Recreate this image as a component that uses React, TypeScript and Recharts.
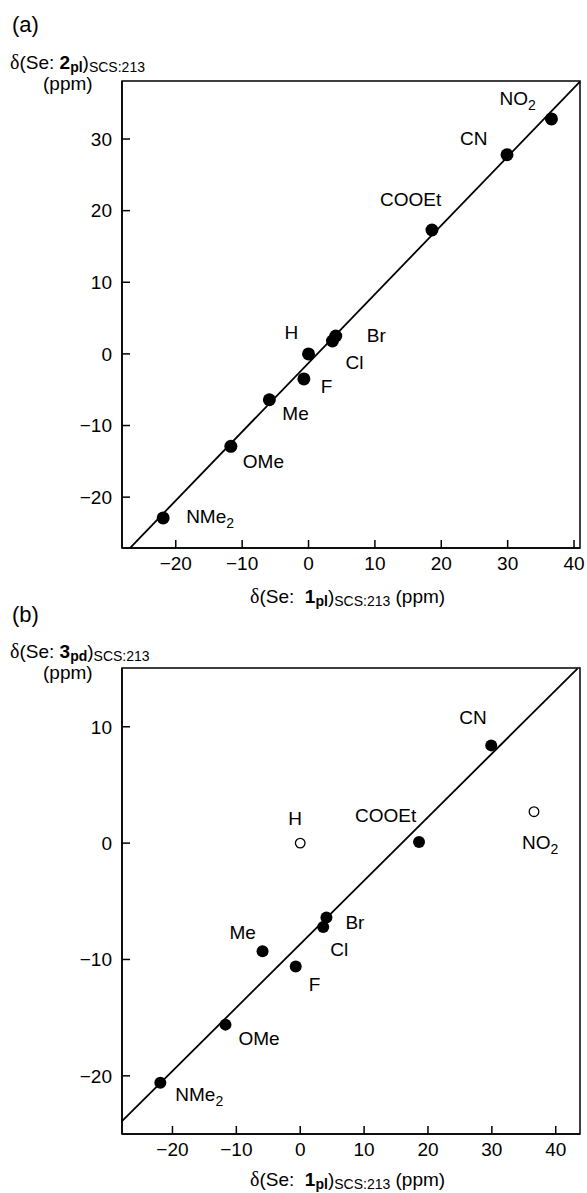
import React from "react";
import {
  ScatterChart,
  Scatter,
  XAxis,
  YAxis,
  ReferenceLine,
  ReferenceArea,
} from "recharts";

// substituents, in the same order in every array below
const substituents = ["NMe2", "OMe", "Me", "F", "H", "Cl", "Br", "COOEt", "CN", "NO2"];

// δ(Se: 1pl) SCS (ppm), shared x values
const se1pl = [-21.9, -11.7, -5.9, -0.7, 0, 3.6, 4.1, 18.6, 29.9, 36.6];
// δ(Se: 2pl) SCS (ppm), panel (a)
const se2pl = [-22.9, -12.9, -6.4, -3.5, 0, 1.8, 2.5, 17.3, 27.8, 32.8];
// δ(Se: 3pd) SCS (ppm), panel (b)
const se3pd = [-20.6, -15.6, -9.3, -10.6, 0, -7.2, -6.4, 0.1, 8.4, 2.7];
// points left out of the fit in panel (b)
const openPointsB = ["H", "NO2"];

// correlation lines, read at the plot edges
const fitA = [
  { x: -26.9, y: -27.1 },
  { x: 40.9, y: 38.0 },
];
const fitB = [
  { x: -27.9, y: -23.9 },
  { x: 43.4, y: 15.0 },
];

const xTicksA = [-20, -10, 0, 10, 20, 30, 40];
const yTicksA = [-20, -10, 0, 10, 20, 30];
const xTicksB = [-20, -10, 0, 10, 20, 30, 40];
const yTicksB = [-20, -10, 0, 10];

const domainXA: [number, number] = [-28.1, 40.9];
const domainYA: [number, number] = [-27.1, 38.1];
const domainXB: [number, number] = [-27.9, 43.8];
const domainYB: [number, number] = [-25.0, 15.05];

// label placement: [dx to text left, dy to text middle] from the dot, in px
const labelPosA: Record<string, [number, number]> = {
  NMe2: [23, -1],
  OMe: [12, 15],
  Me: [13, 14],
  F: [17, 8],
  H: [-24, -21],
  Cl: [13, 21],
  Br: [31, 0],
  COOEt: [-52, -30],
  CN: [-47, -16],
  NO2: [-52, -20],
};
const labelPosB: Record<string, [number, number]> = {
  NMe2: [15, 12],
  OMe: [13, 14],
  Me: [-33, -19],
  F: [13, 18],
  H: [-12, -25],
  Cl: [7, 23],
  Br: [19, 5],
  COOEt: [-64, -26],
  CN: [-32, -28],
  NO2: [-12, 31],
};

const SANS = "Arial, 'Liberation Sans', sans-serif";
const TICK_FONT = "'Liberation Sans Narrow', 'Arial Narrow', Arial, 'Liberation Sans', sans-serif";
const SERIF = "'Liberation Serif', 'Times New Roman', serif";

const minus = (v: number) => String(v).replace("-", "\u2212");

function ChemText({ x, y, text }: { x: number; y: number; text: string }) {
  const m = text.match(/^(.*?)(\d+)$/);
  const main = m ? m[1] : text;
  const sub = m ? m[2] : "";
  return (
    <text x={x} y={y} dominantBaseline="central" fontSize={19} fontFamily={SANS} fill="#000">
      {main}
      {sub && (
        <tspan fontSize={14} dy={6}>
          {sub}
        </tspan>
      )}
    </text>
  );
}

function makeShape(pos: Record<string, [number, number]>, r: number, open: string[]) {
  return (props: any) => {
    const { cx, cy, payload } = props;
    const name: string = payload.name;
    const [dx, dy] = pos[name] || [10, 0];
    const isOpen = open.includes(name);
    return (
      <g>
        {isOpen ? (
          <circle cx={cx} cy={cy} r={4.8} fill="#fff" stroke="#000" strokeWidth={1.3} />
        ) : (
          <circle cx={cx} cy={cy} r={r} fill="#000" />
        )}
        <ChemText x={cx + dx} y={cy + dy} text={name} />
      </g>
    );
  };
}

const subStyle = { fontSize: 14, position: "relative" as const, top: 3, lineHeight: "14px" };

function AxisTitleX({ top, num, sub }: { top: number; num: string; sub: string }) {
  return (
    <div
      style={{
        position: "absolute",
        left: 250,
        top,
        fontFamily: SANS,
        fontSize: 19,
        lineHeight: "22px",
        whiteSpace: "nowrap",
      }}
    >
      <span style={{ fontFamily: SERIF, fontSize: 20 }}>δ</span>(Se:&nbsp; <b>{num}</b>
      <b style={subStyle}>{sub}</b>)<span style={subStyle}>SCS:213</span> (ppm)
    </div>
  );
}

function AxisTitleY({ top, num, sub }: { top: number; num: string; sub: string }) {
  return (
    <>
      <div
        style={{
          position: "absolute",
          left: 10,
          top,
          fontFamily: SANS,
          fontSize: 19,
          lineHeight: "20px",
          whiteSpace: "nowrap",
        }}
      >
        <span style={{ fontFamily: SERIF, fontSize: 20 }}>δ</span>(Se: <b>{num}</b>
        <b style={subStyle}>{sub}</b>)<span style={subStyle}>SCS:213</span>
      </div>
      <div
        style={{
          position: "absolute",
          left: 43,
          top: top + 22,
          fontFamily: SANS,
          fontSize: 19,
          lineHeight: "20px",
        }}
      >
        (ppm)
      </div>
    </>
  );
}

function PanelLabel({ top, text }: { top: number; text: string }) {
  return (
    <div
      style={{
        position: "absolute",
        left: 12,
        top,
        fontFamily: SANS,
        fontSize: 22,
        lineHeight: "26px",
      }}
    >
      {text}
    </div>
  );
}

const tickStyle = { fontSize: 19, fontFamily: TICK_FONT, fill: "#000" };

export default function App() {
  const dataA = substituents.map((name, i) => ({ name, x: se1pl[i], y: se2pl[i] }));
  const dataB = substituents.map((name, i) => ({ name, x: se1pl[i], y: se3pd[i] }));

  return (
    <div
      style={{
        position: "absolute",
        left: 0,
        top: 0,
        width: 587,
        height: 1193,
        background: "#fff",
      }}
    >
      <PanelLabel top={12} text="(a)" />
      <AxisTitleY top={52} num="2" sub="pl" />
      <div style={{ position: "absolute", left: 0, top: 0 }}>
        <ScatterChart width={587} height={600} margin={{ top: 81, right: 7, left: 0, bottom: 0 }}>
          <XAxis
            type="number"
            dataKey="x"
            domain={domainXA}
            ticks={xTicksA}
            allowDataOverflow
            height={52}
            tickSize={-8}
            tickMargin={17}
            tickFormatter={minus}
            tick={tickStyle}
            axisLine={{ stroke: "#000", strokeWidth: 1.5 }}
            tickLine={{ stroke: "#000", strokeWidth: 1.5 }}
          />
          <YAxis
            type="number"
            dataKey="y"
            domain={domainYA}
            ticks={yTicksA}
            allowDataOverflow
            width={122}
            tickSize={-8}
            tickMargin={18}
            tickFormatter={minus}
            tick={tickStyle}
            axisLine={{ stroke: "#000", strokeWidth: 1.5 }}
            tickLine={{ stroke: "#000", strokeWidth: 1.5 }}
          />
          <ReferenceArea
            x1={domainXA[0]}
            x2={domainXA[1]}
            y1={domainYA[0]}
            y2={domainYA[1]}
            fill="none"
            stroke="#000"
            strokeWidth={1.5}
            ifOverflow="visible"
          />
          <ReferenceLine segment={fitA} stroke="#000" strokeWidth={1.8} ifOverflow="visible" />
          <Scatter data={dataA} shape={makeShape(labelPosA, 6.5, [])} isAnimationActive={false} />
        </ScatterChart>
      </div>
      <AxisTitleX top={585} num="1" sub="pl" />

      <PanelLabel top={602} text="(b)" />
      <AxisTitleY top={641} num="3" sub="pd" />
      <div style={{ position: "absolute", left: 0, top: 600 }}>
        <ScatterChart width={587} height={593} margin={{ top: 68, right: 7, left: 0, bottom: 0 }}>
          <XAxis
            type="number"
            dataKey="x"
            domain={domainXB}
            ticks={xTicksB}
            allowDataOverflow
            height={59}
            tickSize={-8}
            tickMargin={17}
            tickFormatter={minus}
            tick={tickStyle}
            axisLine={{ stroke: "#000", strokeWidth: 1.5 }}
            tickLine={{ stroke: "#000", strokeWidth: 1.5 }}
          />
          <YAxis
            type="number"
            dataKey="y"
            domain={domainYB}
            ticks={yTicksB}
            allowDataOverflow
            width={122}
            tickSize={-8}
            tickMargin={18}
            tickFormatter={minus}
            tick={tickStyle}
            axisLine={{ stroke: "#000", strokeWidth: 1.5 }}
            tickLine={{ stroke: "#000", strokeWidth: 1.5 }}
          />
          <ReferenceArea
            x1={domainXB[0]}
            x2={domainXB[1]}
            y1={domainYB[0]}
            y2={domainYB[1]}
            fill="none"
            stroke="#000"
            strokeWidth={1.5}
            ifOverflow="visible"
          />
          <ReferenceLine segment={fitB} stroke="#000" strokeWidth={1.8} ifOverflow="visible" />
          <Scatter data={dataB} shape={makeShape(labelPosB, 6, openPointsB)} isAnimationActive={false} />
        </ScatterChart>
      </div>
      <AxisTitleX top={1168} num="1" sub="pl" />
    </div>
  );
}
